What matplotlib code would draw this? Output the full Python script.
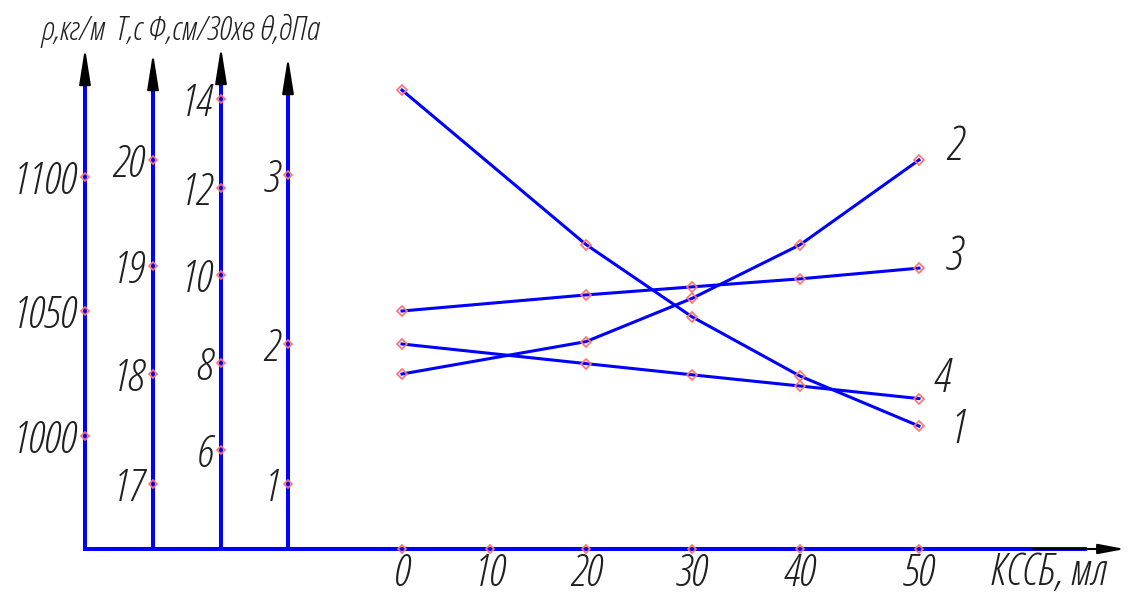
import numpy as np
import matplotlib.pyplot as plt

# ==========================================================
# Data
# ==========================================================

kssb = [0, 20, 30, 40, 50]              # КССБ, мл

phi = [14.2, 10.7, 9.05, 7.7, 6.55]      # curve 1, Ф
visc = [18.0, 18.3, 18.7, 19.2, 20.0]   # curve 2, Т
rho = [1050, 1056, 1059, 1062, 1066]    # curve 3, ρ
theta = [2.0, 1.86, 1.78, 1.70, 1.61]   # curve 4, θ

kssb_ticks = [0, 10, 20, 30, 40, 50]
rho_ticks = [1000, 1050, 1100]
visc_ticks = [17, 18, 19, 20]
phi_ticks = [6, 8, 10, 12, 14]
theta_ticks = [1, 2, 3]

units = "ρ,кг/м  Т,с Ф,см/30хв θ,дПа"
xlabel = "КССБ, мл"

# ==========================================================
# Layout of the drawing (pixels, from top-left)
# ==========================================================

W, H = 1129, 595
BASE_Y = 549

kssb_tick_px = [402, 490, 586, 692, 800, 919]
rho_tick_px = [436, 311, 177]
visc_tick_px = [484, 374, 266, 160]
phi_tick_px = [450, 363, 275, 188, 99]
theta_tick_px = [484, 344, 175]

BLUE = "#0000ff"
PINK = "#ff7070"
TEXT = "#202020"

plt.rcParams["font.family"] = ["Open Sans", "DejaVu Sans"]
plt.rcParams["font.stretch"] = "condensed"
plt.rcParams["font.style"] = "italic"
plt.rcParams["font.weight"] = 300


def piecewise(vals, pos):
    vals = np.asarray(vals, float)
    pos = np.asarray(pos, float)
    span = 1000 * (vals[-1] - vals[0])
    lo = (pos[1] - pos[0]) / (vals[1] - vals[0])
    hi = (pos[-1] - pos[-2]) / (vals[-1] - vals[-2])
    v_ext = np.r_[vals[0] - span, vals, vals[-1] + span]
    p_ext = np.r_[pos[0] - lo * span, pos, pos[-1] + hi * span]
    fwd = lambda v: np.interp(v, v_ext, p_ext)
    inv = lambda p: np.interp(p, p_ext, v_ext)
    return fwd, inv


fx, ix = piecewise(kssb_ticks, kssb_tick_px)

fig = plt.figure(figsize=(W / 100, H / 100), dpi=100)

# one overlaid axes per quantity: (ticks, tick px, spine x, line top, arrow tip)
specs = [
    (rho_ticks, rho_tick_px, 85, 80, 48),
    (visc_ticks, visc_tick_px, 153, 79, 53),
    (phi_ticks, phi_tick_px, 221, 80, 47),
    (theta_ticks, theta_tick_px, 288, 89, 57),
]

axes = []
for ticks, tpx, sx, top, tip in specs:
    ax = fig.add_axes([0, 0, 1, 1])
    ax.patch.set_visible(False)
    fy, iy = piecewise(ticks, [H - p for p in tpx])
    ax.set_xscale("function", functions=(fx, ix))
    ax.set_yscale("function", functions=(fy, iy))
    ax.set_xlim(ix(0), ix(W))
    ax.set_ylim(iy(0), iy(H))

    for s in ["top", "right", "bottom"]:
        ax.spines[s].set_visible(False)
    ax.spines["left"].set_position(("axes", sx / W))
    ax.spines["left"].set_bounds(iy(H - BASE_Y), iy(H - top))
    ax.spines["left"].set_color(BLUE)
    ax.spines["left"].set_linewidth(2.9)
    ax.spines["left"].set_capstyle("butt")

    ax.set_yticks(ticks)
    ax.set_yticklabels([str(t) for t in ticks])
    ax.tick_params(axis="y", length=0, pad=6, labelsize=32, labelcolor=TEXT)
    ax.set_xticks([])

    # red tick marks on the spine
    ax.plot([sx / W] * len(ticks), ticks, transform=ax.get_yaxis_transform(),
            ls="none", marker="D", ms=4.5, mfc="none", mec=PINK, mew=1.2,
            zorder=5, clip_on=False)

    # arrow head on top
    ax.annotate("", xy=(sx / W, 1 - tip / H), xytext=(sx / W, 1 - (top + 2) / H),
                xycoords="axes fraction",
                arrowprops=dict(arrowstyle="-|>,head_length=2.2,head_width=0.35",
                                color="black", lw=1.5, shrinkA=0, shrinkB=0,
                                mutation_scale=10))
    axes.append(ax)

ax_rho, ax_visc, ax_phi, ax_theta = axes

# ==========================================================
# X axis (on the density axes)
# ==========================================================

ax_rho.spines["bottom"].set_visible(True)
ax_rho.spines["bottom"].set_position(("axes", 1 - BASE_Y / H))
ax_rho.spines["bottom"].set_bounds(ix(85), ix(1085))
ax_rho.spines["bottom"].set_color(BLUE)
ax_rho.spines["bottom"].set_linewidth(2.9)
ax_rho.set_xticks(kssb_ticks)
ax_rho.set_xticklabels([str(t) for t in kssb_ticks])
ax_rho.tick_params(axis="x", length=0, pad=2, labelsize=32, labelcolor=TEXT)

ax_rho.plot(kssb_ticks, [1 - BASE_Y / H] * len(kssb_ticks),
            transform=ax_rho.get_xaxis_transform(),
            ls="none", marker="D", ms=4.5, mfc="none", mec=PINK, mew=1.2,
            zorder=5, clip_on=False)

ax_rho.annotate("", xy=(1125 / W, 1 - BASE_Y / H), xytext=(1033 / W, 1 - BASE_Y / H),
                xycoords="axes fraction",
                arrowprops=dict(arrowstyle="-|>,head_length=1.6,head_width=0.3",
                                color="black", lw=1.5, shrinkA=0, shrinkB=0,
                                mutation_scale=10))

ax_rho.text(990 / W, 1 - 573 / H, xlabel, transform=ax_rho.transAxes,
            ha="left", va="center", fontsize=32, color=TEXT)

ax_rho.text(40 / W, 1 - 31 / H, units, transform=ax_rho.transAxes,
            ha="left", va="center", fontsize=24, color=TEXT)

# ==========================================================
# Curves
# ==========================================================

curves = [
    (ax_phi, phi, "1", (28, -3)),
    (ax_visc, visc, "2", (26, 9)),
    (ax_rho, rho, "3", (25, 8)),
    (ax_theta, theta, "4", (17, 14)),
]

for ax, vals, lab, off in curves:
    ax.plot(kssb, vals, color=BLUE, lw=2.2, zorder=3,
            marker="D", ms=5, mfc="none", mec=PINK, mew=1.2)
    ax.annotate(lab, xy=(kssb[-1], vals[-1]), xytext=off,
                textcoords="offset points", ha="center", va="center",
                fontsize=34, color=TEXT)

fig.savefig("out.png", dpi=100)
